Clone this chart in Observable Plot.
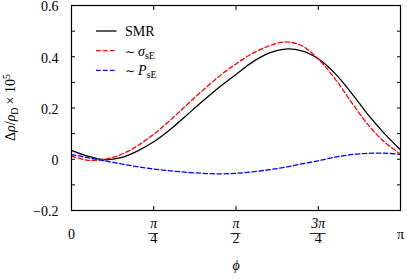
<!DOCTYPE html>
<html><head><meta charset="utf-8">
<script src="https://cdn.jsdelivr.net/npm/d3@7"></script>
<script src="https://cdn.jsdelivr.net/npm/@observablehq/plot@0.6"></script>
<style>html,body{margin:0;padding:0;background:#fff}svg{display:block}</style>
</head><body><div id="chart"></div>
<script>
// phi as fraction of pi
const phiFrac = [0,0.05,0.1,0.15,0.2,0.25,0.3,0.35,0.4,0.45,0.5,0.55,0.6,0.65,0.7,0.75,0.8,0.85,0.9,0.95,1];
const smr   = [0.035,0.012,-0.002,0.006,0.032,0.068,0.116,0.172,0.228,0.282,0.331,0.379,0.414,0.430,0.423,0.392,0.336,0.260,0.176,0.102,0.037];
const sigma = [0.012,-0.004,0.000,0.018,0.052,0.098,0.152,0.212,0.270,0.325,0.372,0.413,0.442,0.458,0.443,0.391,0.316,0.224,0.137,0.069,0.020];
const psE   = [0.018,0.006,-0.006,-0.018,-0.029,-0.038,-0.045,-0.051,-0.055,-0.057,-0.055,-0.049,-0.041,-0.031,-0.018,-0.006,0.008,0.018,0.023,0.024,0.019];

const yTicksMajor = [-0.2,0,0.2,0.4,0.6];
const yTickLabels = ["−0.2","0","0.2","0.4","0.6"];
const yTicksMinor = [-0.2,-0.1,0,0.1,0.2,0.3,0.4,0.5,0.6];
const xTicks = [0, Math.PI/4, Math.PI/2, 3*Math.PI/4, Math.PI];
const xTickPlain = ["0","","","","π"];
const xTickNum = ["","π","π","3π",""];
const xTickDen = ["","4","2","4",""];

const series = [
  {name:"SMR", values:smr, color:"black", dash:null},
  {name:"sigma", values:sigma, color:"#ff0000", dash:"4.5,2.5"},
  {name:"P", values:psE, color:"#0000ff", dash:"4.5,2.5"}
];
const rows = s => phiFrac.map((f,i)=>({phi:f*Math.PI, v:s.values[i]}));
const xt = xTicks.map((v,i)=>({v, plain:xTickPlain[i], num:xTickNum[i], den:xTickDen[i]}));

const font = "'Liberation Serif', serif";
const fs = 14;
const chart = Plot.plot({
  width:407, height:279,
  marginLeft:71, marginRight:7, marginTop:5, marginBottom:69,
  x:{domain:[0,Math.PI]},
  y:{domain:[-0.2,0.6]},
  style:{fontFamily:font, fontSize:fs+"px", background:"white", color:"black", overflow:"visible"},
  marks:[
    Plot.axisY(yTicksMinor,{anchor:"left", tickSize:-4, tickFormat:()=>"", label:null}),
    Plot.axisY(yTicksMinor,{anchor:"right", tickSize:-4, tickFormat:()=>"", label:null}),
    Plot.axisY(yTicksMajor,{anchor:"left", tickSize:0, tickPadding:13, dy:1.5, tickFormat:d=>yTickLabels[yTicksMajor.indexOf(d)], label:null, fontSize:fs}),
    Plot.axisX(xTicks,{anchor:"bottom", tickSize:-4, tickFormat:()=>"", label:null}),
    Plot.axisX(xTicks,{anchor:"top", tickSize:-4, tickFormat:()=>"", label:null}),
    ...series.map(s=>Plot.line(rows(s),{x:"phi", y:"v", stroke:s.color, strokeWidth:1.3, strokeDasharray:s.dash, curve:"catmull-rom"})),
    Plot.frame({stroke:"black", strokeWidth:1.2}),
    Plot.text(xt.filter(d=>d.plain),{x:"v", text:"plain", frameAnchor:"bottom", dy:28, fontSize:fs}),
    Plot.text(xt.filter(d=>d.num),{x:"v", text:"num", frameAnchor:"bottom", dy:17, fontSize:fs, fontStyle:"italic"}),
    Plot.text(xt.filter(d=>d.den),{x:"v", text:"den", frameAnchor:"bottom", dy:32, fontSize:fs}),
    Plot.text(["ϕ"],{text:d=>d, frameAnchor:"bottom", dy:59, fontSize:fs, fontStyle:"italic"})
  ]
});
document.getElementById("chart").appendChild(chart);

// fraction bars, y-label and legend (rich text)
const svg = d3.select(chart);
const xs = chart.scale("x"), ys = chart.scale("y");
const yBottom = ys.apply(-0.2), yTop = ys.apply(0.6), xLeft = xs.apply(0);
xt.filter(d=>d.num).forEach(d=>{
  const cx = xs.apply(d.v), hw = d.num.length > 1 ? 8 : 5;
  svg.append("line").attr("x1",cx-hw).attr("x2",cx+hw).attr("y1",yBottom+23.5).attr("y2",yBottom+23.5)
    .attr("stroke","black").attr("stroke-width",0.8);
});
const yl = svg.append("text").attr("transform",`translate(15,${(yTop+yBottom)/2}) rotate(-90)`)
  .attr("text-anchor","middle").attr("font-family",font).attr("font-size",fs).attr("fill","black");
yl.append("tspan").text("Δ");
yl.append("tspan").attr("font-style","italic").text("ρ");
yl.append("tspan").text("/");
yl.append("tspan").attr("font-style","italic").text("ρ");
yl.append("tspan").attr("font-size",10).attr("dy",3).text("D");
yl.append("tspan").attr("dy",-3).attr("dx",3).text("× 10");
yl.append("tspan").attr("font-size",10).attr("dy",-5).text("5");

const legend = [
  {label:["SMR",null,null], color:"black", dash:null},
  {label:["∼","σ","sE"], color:"#ff0000", dash:"4.5,2.5"},
  {label:["∼","P","sE"], color:"#0000ff", dash:"4.5,2.5"}
];
legend.forEach((l,i)=>{
  const y = yTop + 26 + i*19.7;
  svg.append("line").attr("x1",xLeft+25).attr("x2",xLeft+45.5).attr("y1",y).attr("y2",y)
    .attr("stroke",l.color).attr("stroke-width",1.3).attr("stroke-dasharray",l.dash);
  const t = svg.append("text").attr("x",xLeft+54).attr("y",y).attr("dy","0.35em")
    .attr("text-anchor","start")
    .attr("font-family",font).attr("font-size",fs).attr("fill","black");
  if (l.label[1]) {
    t.append("tspan").attr("font-family","'DejaVu Serif', serif").attr("font-size",12).text(l.label[0]);
    t.append("tspan").attr("dx",3).attr("font-style","italic").text(l.label[1]);
    t.append("tspan").attr("font-size",10).attr("dy",3).text(l.label[2]);
  } else {
    t.append("tspan").text(l.label[0]);
  }
});
</script></body></html>
